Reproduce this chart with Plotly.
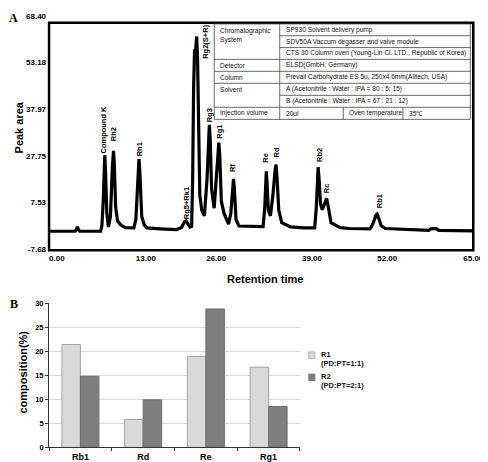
import plotly.graph_objects as go

# ---------------- data: chromatogram (panel A) ----------------
RT = [0.0, 4.0, 4.2, 4.34, 4.5, 4.7,
      7.9, 8.1, 8.3, 8.45, 8.54, 8.65, 8.85, 9.1,
      9.4, 9.72, 9.88, 10.0, 10.2, 10.5, 11.0, 11.7,
      13.0, 13.3, 13.65, 13.78, 13.9, 14.2, 14.6, 15.0,
      17.0, 19.5, 20.3, 20.75, 20.97, 21.3, 21.6, 21.85,
      22.0, 22.15, 22.3, 22.42, 22.52, 22.62, 22.75, 22.9, 23.1, 23.4, 23.8,
      24.2, 24.45, 24.56, 24.7, 24.9, 25.3,
      25.6, 25.9, 26.01, 26.15, 26.4, 26.8, 27.5,
      27.85, 28.15, 28.26, 28.4, 28.65, 29.1,
      31.0, 32.8, 33.05, 33.2, 33.29, 33.4, 33.6, 33.92,
      34.3, 34.65, 34.79, 34.95, 35.2, 35.65, 37.0, 39.0,
      40.7, 40.95, 41.13, 41.23, 41.35, 41.6, 41.86,
      42.2, 42.53, 42.8, 43.2, 44.6, 46.0,
      49.2, 49.7, 50.1, 50.27, 50.5, 50.9, 51.5,
      54.0, 56.0, 58.2, 58.5, 59.3, 59.7, 62.0, 65.0]
SIGNAL = [-1.8, -1.8, -1.2, -0.35, -1.2, -1.8,
          -1.8, 0.0, 8.0, 20.0, 23.0, 18.0, 4.0, -0.4,
          3.0, 20.0, 24.4, 20.0, 6.0, 1.5, 0.2, -0.6,
          -0.7, 2.0, 18.0, 21.7, 18.0, 3.0, 0.2, -0.7,
          -1.0, -1.3, -0.6, 1.3, 1.6, 0.5, -0.4, -0.2,
          15.0, 45.0, 57.5, 56.0, 60.5, 61.7, 55.0, 30.0, 10.0, 5.0, 3.2,
          15.0, 31.0, 32.9, 28.0, 12.0, 5.7,
          14.0, 25.0, 27.1, 23.0, 8.0, 4.1, 0.5,
          4.0, 13.5, 15.3, 12.0, 2.0, -0.1,
          -0.3, -0.3, 6.0, 16.0, 17.7, 14.0, 5.0, 3.2,
          10.0, 18.5, 19.9, 15.0, 5.0, 1.0, -0.4, -0.7,
          -0.7, 6.0, 17.0, 19.1, 16.0, 7.0, 5.2,
          7.5, 8.9, 6.0, 1.0, -0.6, -0.9,
          -1.0, 1.0, 3.5, 3.8, 2.5, 0.0, -0.9,
          -1.1, -1.5, -1.5, -1.0, -0.9, -1.5, -1.6, -1.7]

PEAK_NAMES = ["Compound K", "Rh2", "Rh1", "Rg5+Rk1", "Rg2(S+R)", "Rg3", "Rg1",
              "Rf", "Re", "Rd", "Rb2", "Rc", "Rb1"]
PEAK_LABEL_RT = [8.39, 9.88, 13.78, 20.97, 23.96, 24.56, 26.06,
                 28.08, 33.17, 34.82, 41.34, 42.53, 50.55]
PEAK_LABEL_Y = [31.3, 29.7, 24.9, 7.3, 60.1, 36.1, 30.7,
                18.9, 22.0, 24.0, 23.0, 12.1, 8.0]

X_TICK_POS = [1.2, 14.83, 25.61, 40.29, 51.82, 65.0]
X_TICK_TEXT = ["0.00", "13.00", "26.00", "39.00", "52.00", "65.00"]
Y_TICK_POS = [68.40, 53.18, 37.97, 22.75, 7.53, -7.68]
Y_TICK_TEXT = ["68.40", "53.18", "37.97", "27.75", "7.53", "-7.68"]

# table contents
TABLE_LABELS = ["Chromatographic<br>System", "Detector", "Column", "Solvent", "Injection volume"]
TABLE_VALUES = ["SP930 Solvent delivery pump",
                "SDV50A Vaccum degasser and valve module",
                "CTS 30 Column oven (Young-Lin Cl. LTD., Republic of Korea)",
                "ELSD(GmbH, Germany)",
                "Prevail Carbohydrate ES 5u, 250x4.6mm(Alltech, USA)",
                "A (Acetonitrile : Water : IPA = 80 : 5: 15)",
                "B (Acetonitrile : Water : IPA = 67 : 21 : 12)"]
TABLE_LAST_ROW = ["20ul", "Oven temperature", "35\u2103"]

# ---------------- data: composition (panel B) ----------------
CATEGORIES = ["Rb1", "Rd", "Re", "Rg1"]
R1_VALUES = [21.4, 5.8, 18.9, 16.7]
R2_VALUES = [14.8, 9.9, 28.8, 8.5]
R1_NAME = "R1"
R1_SUB = "(PD:PT=1:1)"
R2_NAME = "R2"
R2_SUB = "(PD:PT=2:1)"

W, H = 488, 462
def PX(x):
    return x / W
def PY(y):
    return 1 - y / H

FONT = "Liberation Sans"
SERIF = "Liberation Serif"

fig = go.Figure()

fig.add_trace(go.Scatter(x=RT, y=SIGNAL, mode="lines", xaxis="x", yaxis="y",
                         line=dict(color="black", width=3.2), showlegend=False,
                         name="ELSD signal"))

fig.add_trace(go.Bar(x=CATEGORIES, y=R1_VALUES, xaxis="x2", yaxis="y2",
                     name=R1_NAME + " " + R1_SUB, showlegend=False,
                     marker=dict(color="#d9d9d9", line=dict(color="#a3a3a3", width=1))))
fig.add_trace(go.Bar(x=CATEGORIES, y=R2_VALUES, xaxis="x2", yaxis="y2",
                     name=R2_NAME + " " + R2_SUB, showlegend=False,
                     marker=dict(color="#7f7f7f", line=dict(color="#6e6e6e", width=1))))

shapes = []
annotations = []

# frame of panel A
shapes.append(dict(type="rect", xref="paper", yref="paper",
                   x0=PX(42), x1=PX(476), y0=PY(243), y1=PY(11),
                   line=dict(color="black", width=2.5), layer="above"))

# peak labels
for name, xr, yv in zip(PEAK_NAMES, PEAK_LABEL_RT, PEAK_LABEL_Y):
    annotations.append(dict(x=xr, y=yv, xref="x", yref="y", text=name, textangle=-90,
                            showarrow=False, xanchor="center", yanchor="middle",
                            font=dict(family=FONT, size=7.5, color="black", weight="bold")))

# table (panel A)
tl, tc, tr = 211, 278, 473
row_edges = [12.2, 24.2, 36.3, 48.3, 60.5, 72.7, 85.0, 97.2, 109.5]
lc = "#444444"
for yy in [row_edges[0], row_edges[3], row_edges[4], row_edges[5], row_edges[7], row_edges[8]]:
    shapes.append(dict(type="line", xref="paper", yref="paper", x0=PX(tl), x1=PX(tr),
                       y0=PY(yy), y1=PY(yy), line=dict(color=lc, width=0.8)))
for yy in [row_edges[1], row_edges[2], row_edges[6]]:
    shapes.append(dict(type="line", xref="paper", yref="paper", x0=PX(tc), x1=PX(tr),
                       y0=PY(yy), y1=PY(yy), line=dict(color=lc, width=0.8)))
for xx in [tl, tc, tr]:
    shapes.append(dict(type="line", xref="paper", yref="paper", x0=PX(xx), x1=PX(xx),
                       y0=PY(row_edges[0]), y1=PY(row_edges[8]), line=dict(color=lc, width=0.8)))
for xx in [343, 404]:
    shapes.append(dict(type="line", xref="paper", yref="paper", x0=PX(xx), x1=PX(xx),
                       y0=PY(row_edges[7]), y1=PY(row_edges[8]), line=dict(color=lc, width=0.8)))

tfont = dict(family=FONT, size=6.6, color="#111111")
label_rows = [0, 3, 4, 5, 7]
for txt, r in zip(TABLE_LABELS, label_rows):
    yc = (row_edges[r] + row_edges[r + 1]) / 2
    if "<br>" in txt:
        annotations.append(dict(x=PX(tl + 4), y=PY(row_edges[r] + 1.5), xref="paper", yref="paper",
                                text=txt, showarrow=False, xanchor="left", yanchor="top",
                                align="left", font=tfont))
    else:
        annotations.append(dict(x=PX(tl + 4), y=PY(yc), xref="paper", yref="paper",
                                text=txt, showarrow=False, xanchor="left", yanchor="middle",
                                font=tfont))
for i, txt in enumerate(TABLE_VALUES):
    yc = (row_edges[i] + row_edges[i + 1]) / 2
    annotations.append(dict(x=PX(tc + 4), y=PY(yc), xref="paper", yref="paper",
                            text=txt, showarrow=False, xanchor="left", yanchor="middle",
                            font=tfont))
yc = (row_edges[7] + row_edges[8]) / 2
for xx, txt in zip([tc + 4, 343 + 4, 404 + 4], TABLE_LAST_ROW):
    annotations.append(dict(x=PX(xx), y=PY(yc), xref="paper", yref="paper",
                            text=txt, showarrow=False, xanchor="left", yanchor="middle",
                            font=tfont))

# axis titles and panel letters
def centered(x, y, text, size, family=FONT, angle=0):
    return dict(x=PX(x), y=PY(y), xref="paper", yref="paper", text=text,
                textangle=angle, showarrow=False, xanchor="center", yanchor="middle",
                font=dict(family=family, size=size, color="black", weight="bold"))

annotations.append(centered(11, 118, "Peak area", 11, angle=-90))
annotations.append(centered(263, 272, "Retention time", 11))
annotations.append(centered(15, 367, "composition(%)", 11, angle=-90))
annotations.append(centered(6, 6, "A", 12, family=SERIF))
annotations.append(centered(6, 298, "B", 12, family=SERIF))

# manual legend for panel B
lfont = dict(family=FONT, size=7.5, color="#111111", weight="bold")
for (sy, fill, edge, nm, sub) in [(346.7, "#d9d9d9", "#a3a3a3", R1_NAME, R1_SUB),
                                  (369.3, "#7f7f7f", "#6e6e6e", R2_NAME, R2_SUB)]:
    shapes.append(dict(type="rect", xref="paper", yref="paper", x0=PX(307.7), x1=PX(314),
                       y0=PY(sy + 6.6), y1=PY(sy), fillcolor=fill, line=dict(color=edge, width=0.8)))
    annotations.append(dict(x=PX(318.5), y=PY(sy + 2.8), xref="paper", yref="paper", text=nm,
                            showarrow=False, xanchor="left", yanchor="middle", font=lfont))
    annotations.append(dict(x=PX(318.5), y=PY(sy + 11.3), xref="paper", yref="paper", text=sub,
                            showarrow=False, xanchor="left", yanchor="middle", font=lfont))

fig.update_layout(
    width=W, height=H, margin=dict(l=0, r=0, t=0, b=0),
    paper_bgcolor="white", plot_bgcolor="white",
    font=dict(family=FONT, color="black"),
    showlegend=False,
    barmode="group", bargap=0.41, bargroupgap=0,
    xaxis=dict(domain=[PX(42), PX(476)], range=[0, 65], anchor="y",
               showgrid=False, zeroline=False, showline=False, ticks="",
               tickmode="array", tickvals=X_TICK_POS, ticktext=X_TICK_TEXT,
               tickfont=dict(family=FONT, size=8, color="black", weight="bold"),
               ticklabelstandoff=3),
    yaxis=dict(domain=[PY(242), PY(4)], range=[-7.68, 68.40], anchor="x",
               showgrid=False, zeroline=False, showline=False, ticks="",
               tickmode="array", tickvals=Y_TICK_POS, ticktext=Y_TICK_TEXT,
               tickfont=dict(family=FONT, size=8, color="black", weight="bold"),
               ticklabelstandoff=2),
    xaxis2=dict(domain=[PX(42), PX(298.7)], anchor="y2", type="category",
                showgrid=False, zeroline=False, showline=True, linecolor="#333333", linewidth=1,
                ticks="outside", tickson="boundaries", ticklen=3, tickcolor="#333333",
                tickfont=dict(family=FONT, size=9, color="black", weight="bold"),
                ticklabelstandoff=1),
    yaxis2=dict(domain=[PY(444), PY(297)], range=[0, 30], anchor="x2", dtick=5,
                showgrid=True, gridcolor="#d9d9d9", gridwidth=1, zeroline=False,
                showline=True, linecolor="#333333", linewidth=1,
                ticks="outside", ticklen=3, tickcolor="#333333",
                tickfont=dict(family=FONT, size=7.5, color="black", weight="bold")),
    shapes=shapes, annotations=annotations,
)

fig.write_html("out.html")
